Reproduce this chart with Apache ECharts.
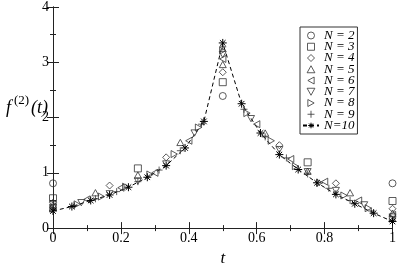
<!DOCTYPE html>
<html><head><meta charset="utf-8">
<script src="https://cdn.jsdelivr.net/npm/echarts@6/dist/echarts.min.js"></script>
<style>html,body{margin:0;padding:0;background:#fff}#c{width:399px;height:272px}</style>
</head><body><div id="c"></div>
<script>
var names = ['N = 2','N = 3','N = 4','N = 5','N = 6','N = 7','N = 8','N = 9','N=10'];
var tN2 = [0, 0.5, 1];
var fN2 = [0.81, 2.39, 0.81];
var tN3 = [0, 0.25, 0.5, 0.75, 1];
var fN3 = [0.54, 1.08, 2.64, 1.19, 0.49];
var tN4 = [0, 0.1667, 0.3333, 0.5, 0.6667, 0.8333, 1];
var fN4 = [0.46, 0.77, 1.28, 2.82, 1.50, 0.81, 0.35];
var tN5 = [0, 0.125, 0.25, 0.375, 0.5, 0.625, 0.75, 0.875, 1];
var fN5 = [0.42, 0.64, 0.96, 1.55, 2.96, 1.72, 1.03, 0.64, 0.27];
var tN6 = [0, 0.1, 0.2, 0.3, 0.4, 0.5, 0.6, 0.7, 0.8, 0.9, 1];
var fN6 = [0.39, 0.52, 0.73, 1.00, 1.58, 3.06, 1.88, 1.25, 0.84, 0.50, 0.24];
var tN7 = [0, 0.0833, 0.1667, 0.25, 0.3333, 0.4167, 0.5, 0.5833, 0.6667, 0.75, 0.8333, 0.9167, 1];
var fN7 = [0.37, 0.46, 0.62, 0.85, 1.16, 1.72, 3.14, 1.98, 1.42, 1.02, 0.68, 0.42, 0.20];
var tN8 = [0, 0.0714, 0.1429, 0.2143, 0.2857, 0.3571, 0.4286, 0.5, 0.5714, 0.6429, 0.7143, 0.7857, 0.8571, 0.9286, 1];
var fN8 = [0.35, 0.43, 0.57, 0.75, 0.97, 1.34, 1.82, 3.21, 2.08, 1.58, 1.12, 0.82, 0.59, 0.36, 0.17];
var tN9 = [0, 0.0625, 0.125, 0.1875, 0.25, 0.3125, 0.375, 0.4375, 0.5, 0.5625, 0.625, 0.6875, 0.75, 0.8125, 0.875, 0.9375, 1];
var fN9 = [0.34, 0.41, 0.53, 0.66, 0.84, 1.05, 1.40, 1.88, 3.28, 2.15, 1.65, 1.27, 0.98, 0.72, 0.50, 0.31, 0.14];
var tN10 = [0, 0.0556, 0.1111, 0.1667, 0.2222, 0.2778, 0.3333, 0.3889, 0.4444, 0.5, 0.5556, 0.6111, 0.6667, 0.7222, 0.7778, 0.8333, 0.8889, 0.9444, 1];
var fN10 = [0.31, 0.39, 0.50, 0.60, 0.74, 0.92, 1.13, 1.45, 1.93, 3.35, 2.25, 1.72, 1.33, 1.06, 0.82, 0.61, 0.44, 0.27, 0.12];
var xTicks = [0, 0.2, 0.4, 0.6, 0.8, 1];
var yTicks = [0, 1, 2, 3, 4];

var tList = [tN2,tN3,tN4,tN5,tN6,tN7,tN8,tN9,tN10];
var fList = [fN2,fN3,fN4,fN5,fN6,fN7,fN8,fN9,fN10];
var symbols = [
  'path://M10,5A5,5 0 1,1 0,5A5,5 0 1,1 10,5Z',
  'path://M0,0L10,0L10,10L0,10Z',
  'path://M5,0L10,5L5,10L0,5Z',
  'path://M5,0L10,9L0,9Z',
  'path://M0,5L9,0L9,10Z',
  'path://M0,0L10,0L5,9Z',
  'path://M0,0L9,5L0,10Z',
  'path://M5,0L5,10M0,5L10,5',
  'path://M5,0L5,10M0,5L10,5M1.5,1.5L8.5,8.5M1.5,8.5L8.5,1.5'
];
var sizes = [7,7,7,7,7,7,7,7,8];
function pairs(t,f){ return t.map(function(v,i){return [v,f[i]];}); }
var series = [];
for (var i=0;i<9;i++){
  var s = {
    name: names[i], type: i===8 ? 'line' : 'scatter',
    data: pairs(tList[i], fList[i]),
    symbol: symbols[i], symbolSize: sizes[i], symbolKeepAspect: true,
    itemStyle: {color: i===8 ? '#000' : 'rgba(0,0,0,0)', borderColor: i===8 ? '#000' : '#333', borderWidth: 1},
    z: 3, animation: false
  };
  if (i===8){ s.showSymbol = true; s.lineStyle = {color:'#000', width:1, type:[4,3]}; }
  series.push(s);
}
var serif = 'Liberation Serif';
var axisCommon = {
  axisLine: {lineStyle: {color: '#222', width: 1}},
  axisTick: {inside: true, length: 6, lineStyle: {color: '#222'}},
  minorTick: {show: true, splitNumber: 2, length: 3, lineStyle: {color: '#222'}},
  splitLine: {show: false}
};
function ax(o){ return Object.assign({}, JSON.parse(JSON.stringify(axisCommon)), o); }
var chart = echarts.init(document.getElementById('c'));
chart.setOption({
  animation: false,
  backgroundColor: '#fff',
  grid: {left: 53, right: 5, top: 5, bottom: 29},
  xAxis: [
    ax({type:'value', min: xTicks[0], max: xTicks[xTicks.length-1], interval: 0.2, position:'bottom',
      axisLabel: {fontFamily: serif, fontSize: 14, color:'#000', margin: 3, formatter: function(v){return String(v);}},
      name: 't', nameLocation: 'middle', nameGap: 15, nameTextStyle: {fontFamily: serif, fontStyle:'italic', fontSize: 17, color:'#000'}}),
    ax({type:'value', min: 0, max: 1, interval: 0.2, position:'top', axisLabel:{show:false}})
  ],
  yAxis: [
    ax({type:'value', min: yTicks[0], max: yTicks[yTicks.length-1], interval: 1, position:'left',
      axisLabel: {fontFamily: serif, fontSize: 14, color:'#000', margin: 4}}),
    ax({type:'value', min: 0, max: 4, interval: 1, position:'right', axisLabel:{show:false}})
  ],
  legend: {
    orient: 'vertical', left: 300, top: 27, itemWidth: 16, itemHeight: 7, itemGap: -1.75,
    padding: [2, 3, 2, 2], borderColor: '#333', borderWidth: 1, itemTextGap: 4,
    itemStyle: {borderWidth: 1},
    textStyle: {fontFamily: serif, fontStyle: 'italic', fontSize: 13, color: '#000'},
    data: names
  },
  graphic: [
    {type:'text', left: 6, top: 99, style:{text:'f', font:'italic 18px ' + serif, fill:'#000'}},
    {type:'text', left: 14, top: 94, style:{text:'(2)', font:'13px ' + serif, fill:'#000'}},
    {type:'text', left: 31, top: 99, style:{text:'(t)', font:'italic 18px ' + serif, fill:'#000'}}
  ],
  series: series
});
</script></body></html>
